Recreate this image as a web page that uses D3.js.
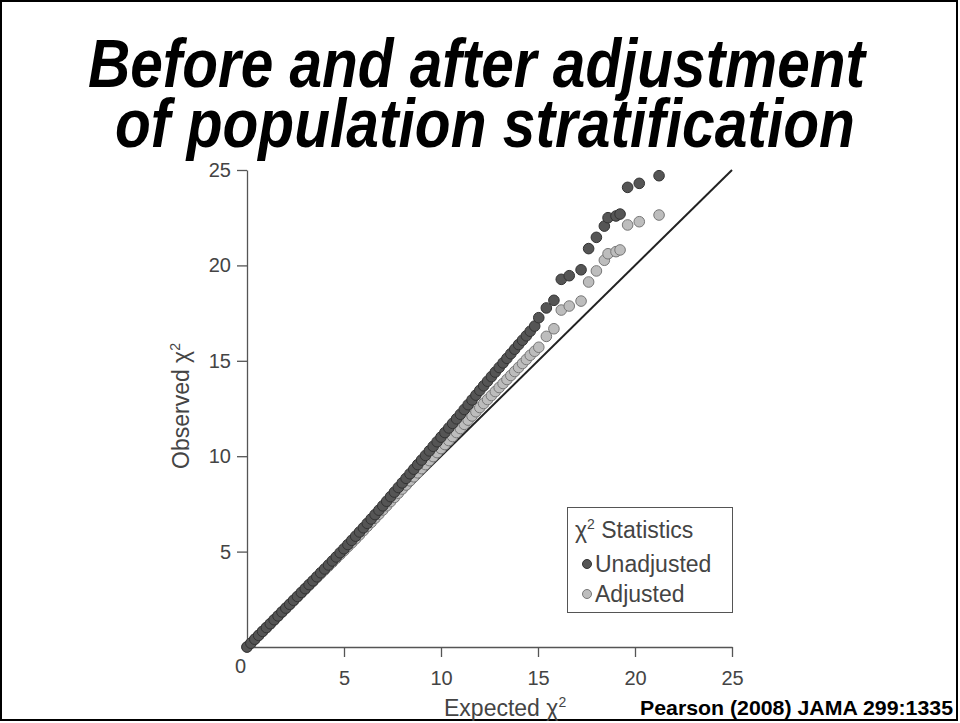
<!DOCTYPE html>
<html>
<head>
<meta charset="utf-8">
<script src="https://cdn.jsdelivr.net/npm/d3@7"></script>
<style>
  body { margin: 0; background: #fff; }
  svg { display: block; }
  .tick text { font-family: "Liberation Sans", Arial, sans-serif; font-size: 20px; fill: #444; }
</style>
</head>
<body>
<svg id="board" width="960" height="723"></svg>
<script>
// expected chi2 quantiles (shared by both series)
const expected = [
  0.0, 0.2, 0.4, 0.6, 0.8, 1.0, 1.2, 1.4, 1.6, 1.8,
  2.0, 2.2, 2.4, 2.6, 2.8, 3.0, 3.2, 3.4, 3.6, 3.8,
  4.0, 4.2, 4.4, 4.6, 4.8, 5.0, 5.2, 5.4, 5.6, 5.8,
  6.0, 6.2, 6.4, 6.6, 6.8, 7.0, 7.2, 7.4, 7.6, 7.8,
  8.0, 8.2, 8.4, 8.6, 8.8, 9.0, 9.2, 9.4, 9.6, 9.8,
  10.0, 10.2, 10.4, 10.6, 10.8, 11.0, 11.2, 11.4, 11.6, 11.8,
  12.0, 12.2, 12.4, 12.6, 12.8, 13.0, 13.2, 13.4, 13.6, 13.8,
  14.0, 14.2, 14.4, 14.6, 14.83,
  15.04, 15.43, 15.82, 16.20, 16.61, 17.22, 17.61, 18.01,
  18.42, 18.61, 19.02, 19.23, 19.62, 20.22, 21.24
];

const unadjusted = [
  0.00, 0.20, 0.41, 0.61, 0.82, 1.02, 1.22, 1.43, 1.63, 1.84,
  2.04, 2.24, 2.45, 2.65, 2.86, 3.06, 3.27, 3.47, 3.68, 3.89,
  4.09, 4.30, 4.51, 4.72, 4.94, 5.15, 5.37, 5.59, 5.81, 6.03,
  6.25, 6.48, 6.71, 6.94, 7.17, 7.40, 7.64, 7.88, 8.12, 8.36,
  8.60, 8.84, 9.08, 9.32, 9.56, 9.80, 10.04, 10.28, 10.52, 10.76,
  11.00, 11.24, 11.48, 11.72, 11.96, 12.20, 12.45, 12.70, 12.95, 13.20,
  13.45, 13.69, 13.93, 14.17, 14.41, 14.65, 14.89, 15.13, 15.37, 15.61,
  15.85, 16.08, 16.31, 16.55, 16.82,
  17.26, 17.77, 18.17, 19.27, 19.46, 19.77, 20.88, 21.47,
  22.06, 22.50, 22.59, 22.69, 24.09, 24.30, 24.70
];

const adjusted = [
  0.00, 0.20, 0.40, 0.61, 0.81, 1.01, 1.21, 1.41, 1.62, 1.82,
  2.02, 2.22, 2.42, 2.63, 2.83, 3.03, 3.23, 3.43, 3.64, 3.84,
  4.04, 4.24, 4.44, 4.65, 4.85, 5.05, 5.26, 5.46, 5.67, 5.88,
  6.10, 6.32, 6.53, 6.75, 6.96, 7.18, 7.40, 7.62, 7.84, 8.06,
  8.28, 8.49, 8.71, 8.92, 9.13, 9.35, 9.56, 9.77, 9.98, 10.19,
  10.40, 10.61, 10.82, 11.03, 11.24, 11.45, 11.67, 11.89, 12.11, 12.33,
  12.55, 12.76, 12.97, 13.18, 13.39, 13.60, 13.81, 14.02, 14.23, 14.44,
  14.65, 14.86, 15.07, 15.29, 15.50,
  15.71, 16.28, 16.68, 17.66, 17.87, 18.13, 19.13, 19.71,
  20.27, 20.61, 20.72, 20.81, 22.12, 22.29, 22.64
];

const xTicks = [0, 5, 10, 15, 20, 25];
const yTicks = [5, 10, 15, 20, 25];
const seriesNames = ["Unadjusted", "Adjusted"];
const titleLines = ["Before and after adjustment", "of population stratification"];

const svg = d3.select("#board");
const font = "'Liberation Sans', Arial, sans-serif";

// slide frame
svg.append("rect")
    .attr("x", 1).attr("y", 1)
    .attr("width", 956).attr("height", 719)
    .attr("fill", "none")
    .attr("stroke", "#000")
    .attr("stroke-width", 2);

// title: condensed bold italic, each line squeezed to the slide's width
const titleX = [[88, 777], [115, 740]];
const titleY = [87, 147];
titleLines.forEach(function(line, i) {
    let t = svg.append("text")
        .attr("font-family", "'Liberation Sans Narrow', 'Liberation Sans', Arial, sans-serif")
        .attr("font-size", 68)
        .attr("font-weight", "bold")
        .attr("font-style", "italic")
        .attr("fill", "#000")
        .text(line);
    let natural = t.node().getComputedTextLength();
    t.attr("transform", `translate(${titleX[i][0]},${titleY[i]}) scale(${titleX[i][1] / natural},1)`);
});

let xScale = d3.scaleLinear().domain([0, 25]).range([247, 732]);
let yScale = d3.scaleLinear().domain([0, 25]).range([647, 170]);

// x axis
let xAxis = svg.append("g")
    .attr("transform", `translate(0,${yScale(0)})`)
    .call(d3.axisBottom(xScale).tickValues(xTicks).tickSize(10).tickSizeOuter(0).tickPadding(14));
xAxis.select(".domain").attr("stroke", "#555").attr("stroke-width", 1.3);
xAxis.selectAll(".tick line").attr("stroke", "#555").attr("stroke-width", 1.3);
xAxis.selectAll(".tick")
    .filter(d => d === 0)
    .each(function() {
        d3.select(this).select("line").remove();
        d3.select(this).select("text").attr("x", -7).attr("dy", "0.1em");
    });

// y axis
let yAxis = svg.append("g")
    .attr("transform", `translate(${xScale(0)},0)`)
    .call(d3.axisLeft(yScale).tickValues(yTicks).tickSize(10).tickSizeOuter(0).tickPadding(6));
yAxis.select(".domain").attr("stroke", "#555").attr("stroke-width", 1.3);
yAxis.selectAll(".tick line").attr("stroke", "#555").attr("stroke-width", 1.3);

// axis titles
svg.append("text")
    .attr("x", 444).attr("y", 716)
    .attr("font-family", font).attr("font-size", 23).attr("fill", "#444")
    .html('Expected χ<tspan dy="-9" font-size="14">2</tspan>');

svg.append("text")
    .attr("transform", "translate(189,406) rotate(-90)")
    .attr("text-anchor", "middle")
    .attr("font-family", font).attr("font-size", 23).attr("fill", "#444")
    .html('Observed χ<tspan dy="-9" font-size="14">2</tspan>');

svg.append("text")
    .attr("x", 640).attr("y", 715)
    .attr("textLength", 313)
    .attr("lengthAdjust", "spacingAndGlyphs")
    .attr("font-family", font).attr("font-size", 21)
    .attr("font-weight", "bold").attr("fill", "#000")
    .text("Pearson (2008) JAMA 299:1335");

// reference diagonal
svg.append("line")
    .attr("x1", xScale(0)).attr("y1", yScale(0))
    .attr("x2", xScale(25)).attr("y2", yScale(25))
    .attr("stroke", "#222")
    .attr("stroke-width", 2);

// points: adjusted underneath, unadjusted on top
const styles = {
    Unadjusted: { fill: "#555", stroke: "#333" },
    Adjusted: { fill: "#bdbdbd", stroke: "#777" }
};

function drawSeries(name, values) {
    svg.append("g")
        .selectAll("circle")
        .data(values)
        .enter()
        .append("circle")
        .attr("cx", (v, i) => xScale(expected[i]))
        .attr("cy", v => yScale(v))
        .attr("r", 5.3)
        .attr("fill", styles[name].fill)
        .attr("stroke", styles[name].stroke)
        .attr("stroke-width", 1);
}
drawSeries("Adjusted", adjusted);
drawSeries("Unadjusted", unadjusted);

// legend
let legend = svg.append("g");
legend.append("rect")
    .attr("x", 567.5).attr("y", 507.5)
    .attr("width", 165).attr("height", 105)
    .attr("fill", "#fff")
    .attr("stroke", "#555")
    .attr("stroke-width", 1);
legend.append("text")
    .attr("x", 575).attr("y", 538)
    .attr("font-family", font).attr("font-size", 23).attr("fill", "#444")
    .html('χ<tspan dy="-9" font-size="14">2</tspan><tspan dy="9"> Statistics</tspan>');

seriesNames.forEach(function(name, i) {
    let yPos = 564 + i * 30;
    legend.append("circle")
        .attr("cx", 587).attr("cy", yPos)
        .attr("r", 4.5)
        .attr("fill", styles[name].fill)
        .attr("stroke", styles[name].stroke);
    legend.append("text")
        .attr("x", 595).attr("y", yPos + 8)
        .attr("font-family", font).attr("font-size", 23).attr("fill", "#444")
        .text(name);
});
</script>
</body>
</html>
